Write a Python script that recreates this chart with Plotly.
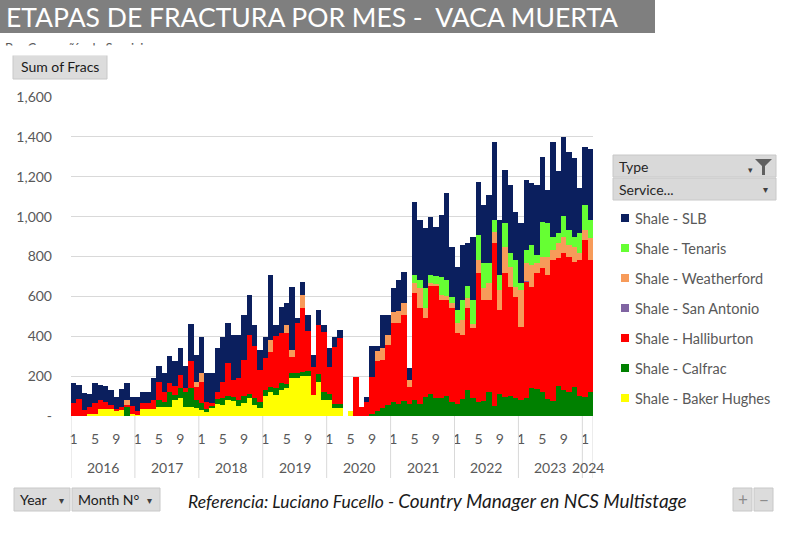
import plotly.graph_objects as go

# ---------------- data ----------------
years = [y for y in range(2016, 2024) for _ in range(12)] + [2024, 2024]
months = [m for _ in range(2016, 2024) for m in range(1, 13)] + [1, 2]

baker_hughes = [0, 0, 0, 8, 12, 34, 34, 34, 29, 29, 0, 12,
                5, 37, 37, 37, 46, 45, 46, 80, 88, 46, 46, 38,
                30, 22, 38, 60, 55, 80, 75, 50, 65, 90, 55, 40,
                100, 122, 105, 130, 139, 189, 190, 200, 200, 105, 172, 80,
                80, 38, 38, 0, 27, 0, 0, 0, 0, 0, 0, 0,
                0, 0, 0, 0, 0, 0, 0, 0, 0, 0, 0, 0,
                0, 0, 0, 0, 0, 0, 0, 0, 0, 0, 0, 0,
                0, 0, 0, 0, 0, 0, 0, 0, 0, 0, 0, 0,
                0, 0]
calfrac = [0, 0, 0, 0, 0, 0, 0, 0, 0, 0, 50, 0,
           0, 0, 0, 0, 34, 25, 76, 25, 51, 76, 93, 40,
           34, 13, 12, 25, 35, 20, 20, 30, 35, 20, 35, 30,
           30, 25, 34, 37, 20, 25, 25, 20, 25, 0, 40, 40,
           30, 20, 20, 0, 0, 0, 0, 0, 10, 25, 40, 55,
           70, 60, 75, 60, 80, 60, 97, 110, 90, 90, 100, 70,
           60, 85, 130, 90, 70, 75, 120, 50, 110, 95, 100, 90,
           80, 90, 140, 135, 120, 85, 75, 150, 130, 120, 145, 100,
           95, 120]
halliburton = [66, 83, 32, 38, 55, 46, 37, 20, 8, 17, 5, 40,
               20, 26, 30, 43, 93, 52, 43, 43, 68, 17, 136, 69,
               108, 37, 14, 35, 80, 165, 85, 110, 180, 296, 260, 160,
               160, 176, 262, 248, 256, 84, 250, 320, 200, 142, 244, 303,
               137, 290, 332, 0, 0, 194, 43, 70, 185, 250, 240, 300,
               395, 405, 432, 87, 535, 480, 393, 545, 560, 492, 482, 470,
               355, 321, 410, 350, 646, 507, 462, 816, 422, 621, 549, 509,
               368, 584, 509, 581, 620, 622, 707, 641, 686, 680, 629, 682,
               788, 662]
san_antonio = [0] * 85 + [5] + [0] * 12
weatherford = [0, 0, 0, 0, 0, 0, 0, 0, 0, 0, 25, 0,
               0, 0, 0, 0, 0, 0, 0, 0, 0, 0, 0, 25,
               42, 0, 0, 0, 0, 0, 0, 0, 0, 0, 0, 0,
               0, 58, 0, 0, 41, 33, 0, 67, 0, 0, 0, 0,
               0, 0, 0, 0, 0, 0, 0, 0, 0, 50, 60, 50,
               55, 60, 58, 34, 50, 100, 50, 10, 10, 25, 20, 25,
               50, 75, 50, 20, 67, 58, 83, 59, 100, 133, 100, 50,
               184, 87, 108, 50, 60, 93, 51, 75, 84, 58, 76, 34,
               50, 109]
tenaris = [0] * 64 + [42, 42, 100, 40, 40, 92, 80, 34,
                      67, 101, 60, 122, 125, 126, 101, 58, 75, 117, 67, 134,
                      33, 67, 101, 42, 175, 166, 67, 50, 103, 75, 50, 100,
                      125, 92]
slb = [99, 73, 82, 64, 101, 76, 80, 77, 57, 88, 84, 45,
       70, 56, 52, 110, 77, 94, 135, 127, 136, 114, 187, 134,
       184, 142, 150, 219, 228, 200, 226, 216, 227, 201, 106, 101,
       108, 326, 55, 133, 109, 318, 25, 67, 82, 59, 76, 33,
       92, 50, 41, 0, 0, 0, 0, 24, 156, 26, 167, 102,
       120, 157, 159, 58, 368, 301, 301, 295, 250, 309, 435, 250,
       217, 276, 216, 318, 267, 292, 342, 393, 276, 268, 343, 242,
       301, 351, 309, 351, 326, 168, 476, 314, 395, 393, 392, 226,
       290, 356]

series_names = ["Shale - Baker Hughes", "Shale - Calfrac", "Shale - Halliburton",
                "Shale - San Antonio", "Shale - Weatherford", "Shale - Tenaris", "Shale - SLB"]
series_values = [baker_hughes, calfrac, halliburton, san_antonio, weatherford, tenaris, slb]
series_colors = ["#FFFF00", "#008000", "#FF0000", "#8064A2", "#F79B5A", "#66FF33", "#0B1F5E"]

y_ticks = [0, 200, 400, 600, 800, 1000, 1200, 1400, 1600]
y_ticktext = ["-", "200", "400", "600", "800", "1,000", "1,200", "1,400", "1,600"]

title_text = "ETAPAS DE FRACTURA POR MES -\u00a0\u00a0VACA MUERTA"
subtitle_text = "Por Compañía de Servicios"
credit_a = "Referencia: Luciano Fucello - "
credit_b = "Country Manager en NCS Multistage"

# ---------------- geometry helpers (pixel -> paper) ----------------
W, H = 790, 542
PL, PR, PT, PB = 71, 593, 97, 416


def px(x):
    return (x - PL) / (PR - PL)


def py(y):
    return (PB - y) / (PB - PT)


FONT = "Lato, Carlito, Calibri, sans-serif"
GREY = "#595959"

fig = go.Figure()
idx = list(range(len(months)))
for name, vals, col in zip(series_names, series_values, series_colors):
    fig.add_trace(go.Bar(x=idx, y=vals, name=name, showlegend=False,
                         marker=dict(color=col, line=dict(width=0))))

tickvals = [i for i, m in enumerate(months) if m in (1, 5, 9)]
ticktext = [str(months[i]) for i in tickvals]

shapes = []
annotations = []


def rect(x0, y0, x1, y1, fill, line=None):
    shapes.append(dict(type="rect", xref="paper", yref="paper",
                       x0=px(x0), x1=px(x1), y0=py(y0), y1=py(y1),
                       fillcolor=fill, line=dict(width=1 if line else 0, color=line or fill),
                       layer="above"))


def text(x, y, s, size=14, color=GREY, xanchor="left", yanchor="middle", **kw):
    annotations.append(dict(xref="paper", yref="paper", x=px(x), y=py(y), text=s,
                            showarrow=False, xanchor=xanchor, yanchor=yanchor,
                            font=dict(size=size, color=color, family=kw.pop("family", FONT)),
                            **kw))


# title bar
rect(0, 0, 655, 33, "#7F7F7F")
text(4, 17, title_text, size=26.5, color="white")
# clipped subtitle
text(3, 48, subtitle_text, size=13, color=GREY)
annotations.append(dict(xref="paper", yref="paper", x=px(0), y=py(45), text=" ",
                        showarrow=False, xanchor="left", yanchor="top", width=300, height=9,
                        bgcolor="white", borderpad=0))

# "Sum of Fracs" button
rect(13, 55, 107, 79, "#DCDCDC", "#C8C8C8")
text(60, 67, "Sum of Fracs", size=14, color="#1A1A1A", xanchor="center")

# year separators & labels
bounds = [i for i in range(len(years)) if i == 0 or years[i] != years[i - 1]] + [len(years)]
for b in bounds:
    shapes.append(dict(type="line", xref="x", yref="paper", x0=b - 0.5, x1=b - 0.5,
                       y0=0, y1=py(478), line=dict(color="#D9D9D9", width=1)))
for k in range(len(bounds) - 1):
    a, b = bounds[k], bounds[k + 1]
    annotations.append(dict(xref="x", yref="paper", x=(a + b - 1) / 2, y=py(467),
                            text=str(years[a]), showarrow=False, xanchor="center",
                            yanchor="middle", font=dict(size=14, color=GREY, family=FONT)))

# legend (pivot-style)
rect(613, 155, 776, 177, "#D9D9D9", "#C8C8C8")
text(617, 166, "Type", size=14, color="#262626")
text(750, 169, "▾", size=9, color="#404040", xanchor="center")
shapes.append(dict(type="path", xref="paper", yref="paper", layer="above",
                   path=("M {a},{b} L {c},{b} L {d},{e} L {d},{f} L {g},{f} L {g},{e} Z").format(
                       a=px(755), b=py(159), c=px(772), d=px(765), e=py(166), f=py(175), g=px(762)),
                   fillcolor="#606060", line=dict(width=0)))
rect(613, 178, 776, 200, "#D9D9D9", "#C8C8C8")
text(617, 189, "Service...", size=14, color="#262626")
text(765, 189, "▾", size=10, color="#404040", xanchor="center")
legend_order = list(range(len(series_names)))[::-1]
for row, si in enumerate(legend_order):
    yc = 218 + 30 * row
    rect(621, yc - 4, 629, yc + 4, series_colors[si])
    text(633, yc, series_names[si], size=14.5, color=GREY)

# bottom field buttons
rect(14, 488, 70, 511, "#DCDCDC", "#C8C8C8")
text(18, 499.5, "Year", size=14, color="#1A1A1A")
text(61, 499.5, "▾", size=10, color="#404040", xanchor="center")
rect(72, 488, 160, 511, "#DCDCDC", "#C8C8C8")
text(76, 499.5, "Month N°", size=14, color="#1A1A1A")
text(149, 499.5, "▾", size=10, color="#404040", xanchor="center")
rect(733, 488, 752, 511, "#DCDCDC", "#C8C8C8")
text(742.5, 499, "+", size=17, color="#8C8C8C", xanchor="center")
rect(754, 488, 773, 511, "#DCDCDC", "#C8C8C8")
text(763.5, 499, "−", size=17, color="#8C8C8C", xanchor="center")

# credit line
text(186, 500, "<i><span style='font-size:17.5px'>" + credit_a + "</span>" + credit_b + "</i>",
     size=19, color="#1A1A1A")

fig.update_layout(
    width=W, height=H,
    margin=dict(l=PL, r=W - PR, t=PT, b=H - PB, pad=0),
    paper_bgcolor="white", plot_bgcolor="white",
    barmode="stack", bargap=0,
    font=dict(family=FONT, color=GREY),
    xaxis=dict(range=[-0.5, len(months) - 0.5], tickmode="array", tickvals=tickvals,
               ticktext=ticktext, showgrid=False, zeroline=False, showline=False, ticks="",
               tickfont=dict(size=14, color=GREY), ticklabelstandoff=13, fixedrange=True),
    yaxis=dict(range=[0, 1600], tickmode="array", tickvals=y_ticks, ticktext=y_ticktext,
               gridcolor="#D9D9D9", gridwidth=1, zeroline=False, showline=False, ticks="",
               tickfont=dict(size=14, color=GREY), ticklabelstandoff=18, fixedrange=True),
    shapes=shapes, annotations=annotations, showlegend=False,
)

fig.write_html("out.html", config={"displayModeBar": False})
